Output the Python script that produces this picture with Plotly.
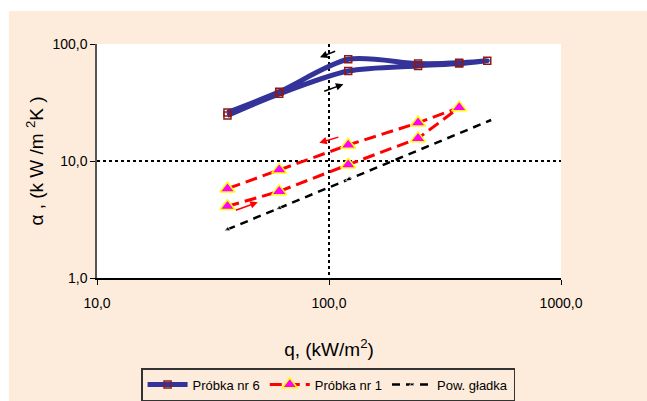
import plotly.graph_objects as go

# ---- data ----
q6 = [36.5, 61, 121, 242, 364, 481, 364, 242, 121, 61, 36.5]
a6 = [24.5, 37.5, 58.8, 65, 68, 72, 69, 68, 74, 39, 26]

q1 = [36.5, 61, 121, 242, 364, 242, 121, 61, 36.5]
a1 = [4.1, 5.5, 9.3, 15.6, 28.6, 21.2, 13.7, 8.4, 5.8]

q0 = [36.5, 61, 122, 500]
a0 = [2.6, 3.95, 7.0, 22.4]

x_ticks = [10, 100, 1000]
x_ticktext = ["10,0", "100,0", "1000,0"]
y_ticks = [1, 10, 100]
y_ticktext = ["1,0", "10,0", "100,0"]

# direction arrows (log10 coords): (tail_x, tail_y, head_x, head_y, colour)
arrows = [
    (2.033, 1.943, 1.961, 1.886, "black"),
    (1.973, 1.592, 2.062, 1.656, "black"),
    (2.047, 1.208, 1.958, 1.156, "red"),
    (1.592, 0.575, 1.693, 0.647, "red"),
]

FONT = "Liberation Sans, Arial"
BEIGE = "#FDEBDB"

fig = go.Figure()
fig.add_trace(go.Scatter(
    x=q6, y=a6, name="Próbka nr 6", mode="lines+markers",
    line=dict(color="#333399", width=5, shape="spline", smoothing=0.8),
    marker=dict(symbol="square-open", size=7, color="#8B1A1A", line=dict(width=1.5, color="#8B1A1A")),
))
fig.add_trace(go.Scatter(
    x=q1, y=a1, name="Próbka nr 1", mode="lines+markers",
    line=dict(color="#FF0000", width=3, dash="12px,6px"),
    marker=dict(symbol="triangle-up", size=13, color="#FF00FF", line=dict(width=1.5, color="#FFFF00")),
))
fig.add_trace(go.Scatter(
    x=q0, y=a0, name="Pow. gładka", mode="lines+markers",
    line=dict(color="black", width=2.5, dash="8px,6px"),
    marker=dict(symbol="triangle-up", size=[6, 6, 6, 0], color="black"),
))

for tx, ty, hx, hy, c in arrows:
    fig.add_annotation(x=hx, y=hy, ax=tx, ay=ty, xref="x", yref="y", axref="x", ayref="y",
                       text="", showarrow=True, arrowhead=2, arrowsize=1, arrowwidth=1.5, arrowcolor=c)

# white strips on top and left, beige elsewhere
fig.add_shape(type="rect", xref="paper", yref="paper", x0=-0.25, x1=1.3, y0=1.141, y1=1.25,
              fillcolor="white", line_width=0, layer="above")
fig.add_shape(type="rect", xref="paper", yref="paper", x0=-0.25, x1=-0.190, y0=-0.6, y1=1.25,
              fillcolor="white", line_width=0, layer="above")

fig.update_layout(
    width=647, height=401,
    margin=dict(l=97, r=86, t=44, b=123, autoexpand=False),
    paper_bgcolor=BEIGE, plot_bgcolor="white",
    font=dict(family=FONT, size=13, color="black"),
    showlegend=True,
    legend=dict(orientation="h", x=0.498, xanchor="center", y=-0.385, yanchor="top",
                bgcolor=BEIGE, bordercolor="#333333", borderwidth=1.5,
                font=dict(family=FONT, size=13), itemwidth=40, tracegroupgap=0),
)
fig.update_xaxes(
    type="log", range=[1, 3], tickvals=x_ticks, ticktext=x_ticktext, automargin=False,
    showgrid=True, gridcolor="black", griddash="dot", gridwidth=2,
    showline=True, linecolor="black", linewidth=1.5,
    ticks="outside", ticklen=5, tickcolor="black", ticklabelstandoff=6,
    tickfont=dict(size=14),
    title=dict(text="q, (kW/m<sup>2</sup>)", font=dict(size=19), standoff=33),
)
fig.update_yaxes(
    type="log", range=[0, 2], tickvals=y_ticks, ticktext=y_ticktext, automargin=False,
    showgrid=True, gridcolor="black", griddash="dot", gridwidth=2,
    showline=True, linecolor="#555555", linewidth=1.5,
    ticks="outside", ticklen=5, tickcolor="black",
    tickfont=dict(size=14),
    title=dict(text="α , (k W /m <sup>2</sup>K )", font=dict(size=19), standoff=4),
)

fig.write_html("out.html", config={"displayModeBar": False},
               post_script="document.body.style.margin='0px';document.documentElement.style.overflow='hidden';")
